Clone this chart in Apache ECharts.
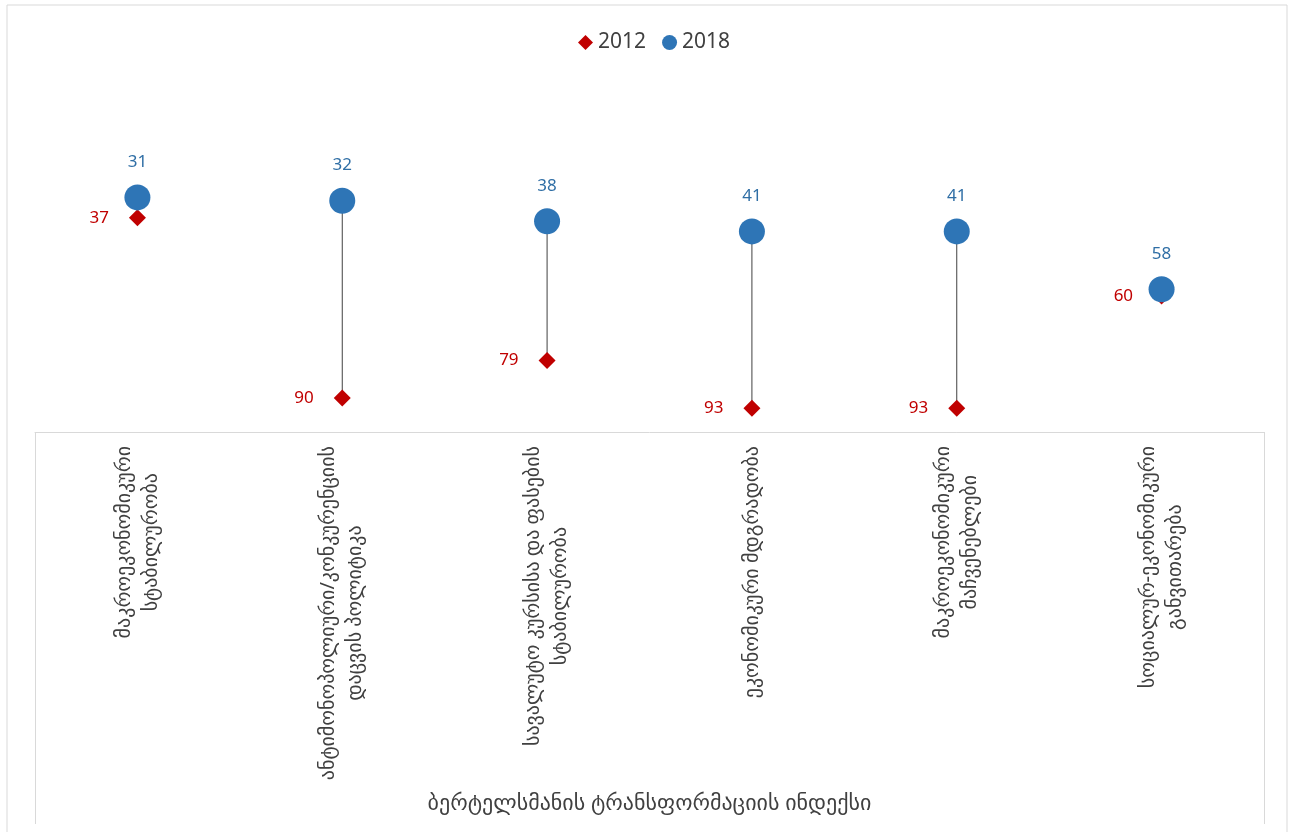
<!DOCTYPE html>
<html>
<head>
<meta charset="utf-8">
<script src="https://cdn.jsdelivr.net/npm/echarts@6/dist/echarts.min.js"></script>
<style>
html,body{margin:0;padding:0;background:#fff;}
#chart{width:1293px;height:832px;}
</style>
</head>
<body>
<div id="chart"></div>
<script>
var categories = [
  'მაკროეკონომიკური\nსტაბილურობა',
  'ანტიმონოპოლიური/კონკურენციის\nდაცვის პოლიტიკა',
  'სავალუტო კურსისა და ფასების\nსტაბილურობა',
  'ეკონომიკური მდგრადობა',
  'მაკროეკონომიკური\nმაჩვენებლები',
  'სოციალურ-ეკონომიკური\nგანვითარება'
];
var groupLabel = ['ბერტელსმანის ტრანსფორმაციის ინდექსი'];
var values2012 = [37, 90, 79, 93, 93, 60];
var values2018 = [31, 32, 38, 41, 41, 58];
var seriesNames = ['2012', '2018'];

var pairs = categories.map(function (c, i) { return [i, values2012[i], values2018[i]]; });

var chart = echarts.init(document.getElementById('chart'));
var font = '"Noto Sans", "DejaVu Sans", sans-serif';
chart.setOption({
  animation: false,
  textStyle: { fontFamily: font },
  graphic: [{
    type: 'rect', shape: { x: 7, y: 5, width: 1280, height: 840 },
    style: { fill: 'none', stroke: '#d9d9d9', lineWidth: 1 }, silent: true
  }],
  legend: {
    top: 27, left: 573, itemWidth: 15, itemHeight: 15, itemGap: 16,
    textStyle: { fontSize: 21, color: '#404040', fontFamily: font },
    data: [{ name: '2012', icon: 'diamond' }, { name: '2018', icon: 'circle' }]
  },
  grid: { left: 35, right: 29, top: 92, bottom: 400 },
  xAxis: [{
    type: 'category', data: categories,
    axisLine: { show: true, onZero: false, lineStyle: { color: '#d9d9d9' } },
    axisTick: { show: false },
    axisLabel: {
      rotate: 90, margin: 14, interval: 0,
      formatter: function (v) {
        return v.split('\n').map(function (s) { return '{c|' + s + '}'; }).join('\n');
      },
      rich: { c: { fontSize: 20, lineHeight: 27, color: '#404040', fontFamily: font, align: 'center' } }
    }
  }, {
    type: 'category', data: groupLabel, position: 'bottom',
    axisLine: { show: false, onZero: false },
    axisTick: { show: true, length: 392, lineStyle: { color: '#d9d9d9' } },
    axisLabel: { margin: 361, fontSize: 22, color: '#404040', fontFamily: font }
  }],
  yAxis: {
    type: 'value', min: 0, max: 100, inverse: true, show: false
  },
  series: [{
    type: 'custom', name: 'conn', silent: true, z: 1,
    renderItem: function (params, api) {
      var p1 = api.coord([api.value(0), api.value(1)]);
      var p2 = api.coord([api.value(0), api.value(2)]);
      return { type: 'line', shape: { x1: p1[0], y1: p1[1], x2: p2[0], y2: p2[1] },
               style: { stroke: '#404040', lineWidth: 1 } };
    },
    encode: { x: 0, y: [1, 2] },
    data: pairs
  }, {
    type: 'scatter', name: seriesNames[0], data: values2012, symbol: 'diamond', symbolSize: 17, z: 3,
    itemStyle: { color: '#C00000', opacity: 1 },
    label: { show: true, position: 'left', distance: 20, fontSize: 17, color: '#C00000', fontFamily: font }
  }, {
    type: 'scatter', name: seriesNames[1], data: values2018, symbol: 'circle', symbolSize: 26, z: 4,
    itemStyle: { color: '#2E75B6', opacity: 1 },
    label: { show: true, position: 'top', distance: 14, fontSize: 17, color: '#2F6EA5', fontFamily: font }
  }]
});
</script>
</body>
</html>
